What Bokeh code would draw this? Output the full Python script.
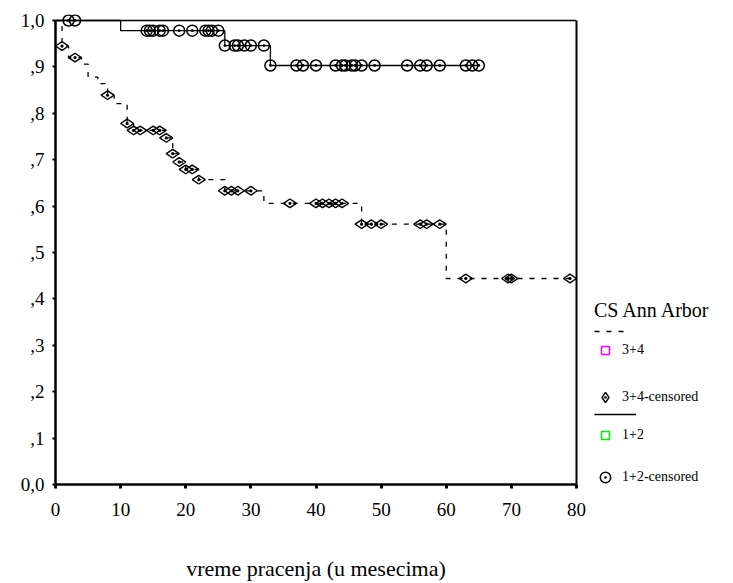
import numpy as np
from bokeh.plotting import figure
from bokeh.layouts import row
from bokeh.models import (ColumnDataSource, FixedTicker, Legend, LegendItem,
                          LinearAxis, Span, Range1d)
from bokeh.embed import file_html
from bokeh.resources import INLINE

FONT = "'Liberation Serif', 'DejaVu Serif', serif"

# ---------------- data ----------------
x_ticks = [0, 10, 20, 30, 40, 50, 60, 70, 80]
y_ticks = [0.0, 0.1, 0.2, 0.3, 0.4, 0.5, 0.6, 0.7, 0.8, 0.9, 1.0]
y_tick_labels = ["0,0", ",1", ",2", ",3", ",4", ",5", ",6", ",7", ",8", ",9", "1,0"]

x_title = "vreme pracenja (u mesecima)"
legend_title = "CS Ann Arbor"
label_34 = "3+4"
label_34_cens = "3+4-censored"
label_12 = "1+2"
label_12_cens = "1+2-censored"

# stage 3+4 (dashed): step times and survival after each step
g34_step_time = [0, 1, 2, 4, 5, 6.5, 8, 9, 11, 12, 17, 18, 19, 20, 22, 26, 32, 47, 60, 79]
g34_step_surv = [1.0, 0.945, 0.920, 0.906, 0.878, 0.864, 0.839, 0.821, 0.778, 0.763,
                 0.747, 0.713, 0.695, 0.679, 0.657, 0.633, 0.606, 0.561, 0.444, 0.444]
g34_cens_time = [1, 3, 8, 11, 12, 13, 15, 16, 17, 18, 19, 20, 21, 22, 26, 27, 28, 30,
                 36, 40, 41, 42, 43, 44, 47, 48.5, 50, 56, 57, 59, 63, 69.5, 70, 79]

# stage 1+2 (solid)
g12_step_time = [0, 10, 26, 33, 65]
g12_step_surv = [1.0, 0.978, 0.946, 0.903, 0.903]
g12_cens_time = [2, 3, 14, 14.5, 15, 16, 16.5, 19, 21, 23, 23.5, 24, 25,
                 26, 27.5, 28, 29, 30, 32,
                 33, 37, 38, 40, 43, 44, 44.5, 45.5, 46, 47, 49, 54, 56, 57, 59, 63, 64, 65]


def level_at(step_t, step_s, t):
    idx = np.searchsorted(np.asarray(step_t, float), np.asarray(t, float), side="right") - 1
    return np.asarray(step_s, float)[idx]


src34 = ColumnDataSource(dict(t=g34_step_time, s=g34_step_surv))
src12 = ColumnDataSource(dict(t=g12_step_time, s=g12_step_surv))
cen34 = ColumnDataSource(dict(t=g34_cens_time, s=level_at(g34_step_time, g34_step_surv, g34_cens_time)))
cen12 = ColumnDataSource(dict(t=g12_cens_time, s=level_at(g12_step_time, g12_step_surv, g12_cens_time)))

# styles
DASH = "5 7"
line34 = dict(line_color="black", line_width=1.3, line_dash=DASH)
line12 = dict(line_color="black", line_width=1.3)
diam = dict(marker="diamond_dot", size=13, angle=np.pi / 2, line_color="black",
            line_width=1.4, fill_color=None)
circ = dict(marker="circle_dot", size=11, line_color="black", line_width=1.5, fill_color=None)
sq34 = dict(marker="square", size=8, line_color="#ff00ff", line_width=1.5, fill_color=None)
sq12 = dict(marker="square", size=8, line_color="#00ee00", line_width=1.5, fill_color=None)

# ---------------- main figure ----------------
p = figure(width=588, height=583, x_range=Range1d(0, 80), y_range=Range1d(0, 1.0129),
           output_backend="svg", toolbar_location=None,
           min_border_left=55, min_border_right=12, min_border_top=14, min_border_bottom=98)
p.background_fill_color = "white"
p.border_fill_color = "white"
p.outline_line_color = None
p.xgrid.visible = False
p.ygrid.visible = False

p.xaxis.ticker = FixedTicker(ticks=x_ticks)
p.yaxis.ticker = FixedTicker(ticks=y_ticks)
p.yaxis.major_label_overrides = dict(zip(y_ticks, y_tick_labels))
p.yaxis.bounds = (0, 1)
for ax in (p.xaxis[0], p.yaxis[0]):
    ax.axis_line_color = "black"
    ax.axis_line_width = 2.5
    ax.major_tick_in = 0
    ax.minor_tick_line_color = None
    ax.major_label_text_font = FONT
    ax.major_label_text_font_size = "19px"
    ax.major_label_text_color = "black"
p.xaxis.major_tick_out = 4
p.xaxis.major_tick_line_width = 3
p.xaxis.major_label_standoff = 14
p.yaxis.major_tick_out = 3
p.yaxis.major_tick_line_width = 2
p.yaxis.major_label_standoff = 8

p.xaxis.axis_label = x_title
p.xaxis.axis_label_text_font = FONT
p.xaxis.axis_label_text_font_style = "normal"
p.xaxis.axis_label_text_font_size = "22px"
p.xaxis.axis_label_text_color = "black"
p.xaxis.axis_label_standoff = 37

# right border as a bare axis, top border as a span at 1.0
ra = LinearAxis(ticker=FixedTicker(ticks=[]), bounds=(0, 1), major_tick_out=0, major_tick_in=0,
                minor_tick_out=0, minor_tick_in=0, major_label_text_font_size="0px",
                axis_line_width=2, axis_line_color="black")
p.add_layout(ra, "right")
p.add_layout(Span(location=1.0, dimension="width", line_color="black", line_width=1.5))

p.step("t", "s", source=src34, mode="after", **line34)
p.step("t", "s", source=src12, mode="after", **line12)
p.scatter("t", "s", source=cen34, **diam)
p.scatter("t", "s", source=cen12, **circ)

# ---------------- legend panel ----------------
# the panel's ranges exclude all data, so its renderers only serve the legend
lf = figure(width=142, height=583, output_backend="svg", toolbar_location=None,
            x_axis_type=None, y_axis_type=None, min_border=0,
            x_range=Range1d(-2, -1), y_range=Range1d(-2, -1))
lf.outline_line_color = None
lf.background_fill_color = "white"
lf.border_fill_color = "white"

l_r34_line = lf.step("t", "s", source=src34, mode="after", **line34)
l_r34_evt = lf.scatter("t", "s", source=src34, **sq34)
l_r34_cens = lf.scatter("t", "s", source=cen34, **diam)
l_r12_line = lf.step("t", "s", source=src12, mode="after", **line12)
l_r12_evt = lf.scatter("t", "s", source=src12, **sq12)
l_r12_cens = lf.scatter("t", "s", source=cen12, **circ)


def add_legend(renderer, label, loc, gw, gh, lh, standoff=4, label_size="14px", title=None):
    lg = Legend(items=[LegendItem(label=label, renderers=[renderer])], location=loc,
                glyph_width=gw, glyph_height=gh, label_height=lh, label_standoff=standoff,
                padding=0, margin=0, spacing=0, border_line_alpha=0,
                background_fill_alpha=0, label_text_font=FONT,
                label_text_font_size=label_size, label_text_color="black")
    if title is not None:
        lg.title = title
        lg.title_text_font = FONT
        lg.title_text_font_style = "normal"
        lg.title_text_font_size = "20px"
        lg.title_text_color = "black"
        lg.title_standoff = 5
    lf.add_layout(lg)


add_legend(l_r34_line, "", (6, 149), 34, 8, 8, label_size="6px", title=legend_title)
add_legend(l_r34_evt, label_34, (7, 124), 20, 20, 20, standoff=7)
add_legend(l_r34_cens, label_34_cens, (4, 74), 26, 26, 26)
add_legend(l_r12_line, "", (6, 66), 42, 8, 8, label_size="6px")
add_legend(l_r12_evt, label_12, (7, 39), 20, 20, 20, standoff=7)
add_legend(l_r12_cens, label_12_cens, (4, -6), 26, 26, 26)

layout = row(p, lf, spacing=0)
open("out.html", "w").write(file_html(layout, INLINE))
